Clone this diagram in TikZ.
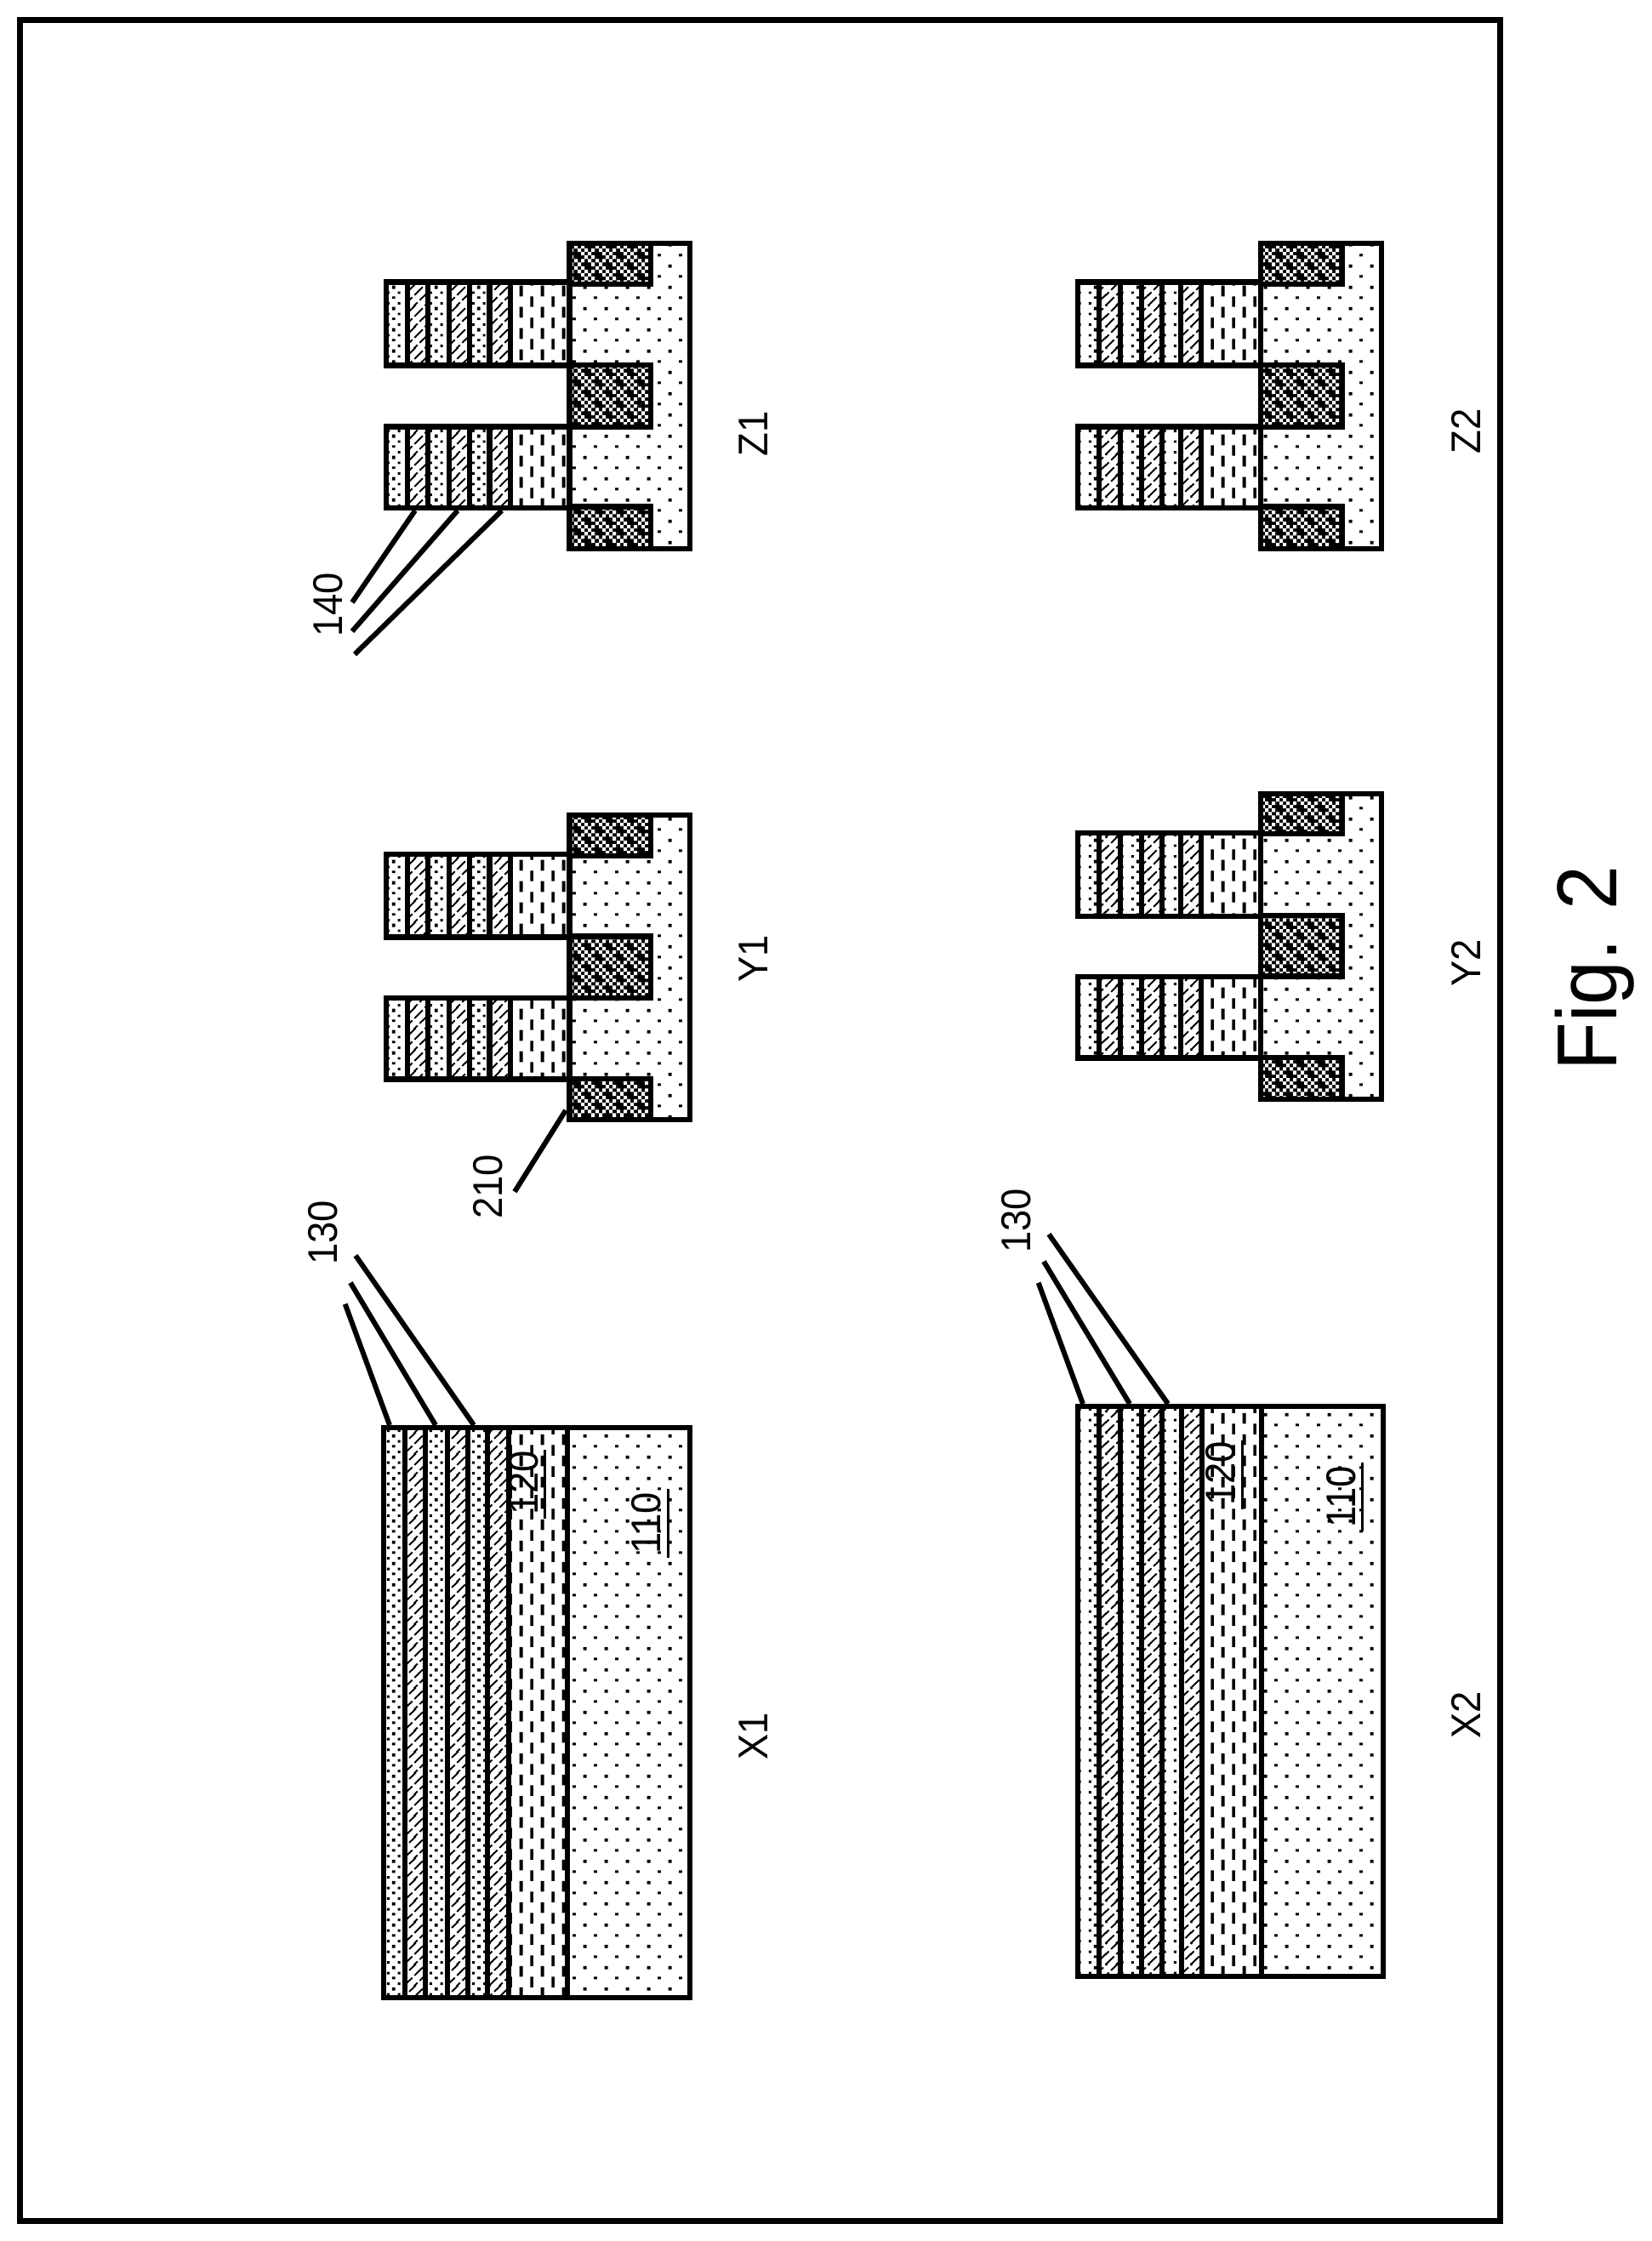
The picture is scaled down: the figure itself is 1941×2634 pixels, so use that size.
\documentclass[tikz,border=0pt]{standalone}
\usepackage{fontspec}
\usetikzlibrary{patterns}
\setmainfont[FakeStretch=0.93]{Liberation Sans}
\newcommand\ulnum[1]{\setbox0\hbox{#1}\rlap{\kern-1.1pt\rule[-2.45pt]{20.25pt}{0.75pt}}#1}
% rectangle in a 25 px pattern tile: x, y (pixels, y down, page coordinates), w, h; wraps round the tile
\newcommand\pr[4]{%
  \pgfmathsetmacro\ax{mod(mod(#1,25)+25,25)*0.25}%
  \pgfmathsetmacro\ay{mod(mod(9-(#2)-(#4),25)+25,25)*0.25}%
  \pgfmathsetmacro\aw{(#3)*0.25}%
  \pgfmathsetmacro\ah{(#4)*0.25}%
  \pgfmathsetmacro\bx{\ax-6.25}%
  \pgfmathsetmacro\by{\ay-6.25}%
  \pgfpathrectangle{\pgfpoint{\ax pt}{\ay pt}}{\pgfpoint{\aw pt}{\ah pt}}%
  \pgfpathrectangle{\pgfpoint{\bx pt}{\ay pt}}{\pgfpoint{\aw pt}{\ah pt}}%
  \pgfpathrectangle{\pgfpoint{\ax pt}{\by pt}}{\pgfpoint{\aw pt}{\ah pt}}%
  \pgfpathrectangle{\pgfpoint{\bx pt}{\by pt}}{\pgfpoint{\aw pt}{\ah pt}}%
}
\newcommand\wc[2]{\pr{#1*4.1667}{#2*4.1667}{4.1667}{4.1667}}
\pgfdeclarepatternformonly{sparsedots}{\pgfqpoint{0pt}{0pt}}{\pgfqpoint{6.25pt}{6.25pt}}{\pgfqpoint{6.25pt}{6.25pt}}{%
  \pr{11}{10}{4}{4}\pr{-1}{23}{3}{3}\pgfusepath{fill}}
\pgfdeclarepatternformonly{longdash}{\pgfqpoint{0pt}{0pt}}{\pgfqpoint{6.25pt}{6.25pt}}{\pgfqpoint{6.25pt}{6.25pt}}{%
  \pr{11}{10}{4}{13}\pr{-1}{-2}{3}{12}\pgfusepath{fill}}
\pgfdeclarepatternformonly{densedots}{\pgfqpoint{0pt}{0pt}}{\pgfqpoint{6.25pt}{6.25pt}}{\pgfqpoint{6.25pt}{6.25pt}}{%
  \pr{11}{10}{4}{4}\pr{11}{23}{4}{3}\pr{5}{5}{3}{3}\pr{18}{5}{3}{3}\pr{5}{17}{3}{3}\pr{18}{17}{3}{3}\pgfusepath{fill}}
\pgfdeclarepatternformonly{hatchdash}{\pgfqpoint{0pt}{0pt}}{\pgfqpoint{6.25pt}{6.25pt}}{\pgfqpoint{6.25pt}{6.25pt}}{%
  \pgfsetlinewidth{0.5pt}%
  \pgfsetdash{{3.5pt}{0.92pt}}{0pt}%
  \foreach \k/\s in {-6.25/0,-3.125/1.5625,0/0,3.125/1.5625,6.25/0}{%
    \pgfpathmoveto{\pgfpoint{-3.125pt+\s pt}{\k pt-3.125pt+\s pt}}%
    \pgfpathlineto{\pgfpoint{9.375pt}{\k pt+9.375pt}}%
    \pgfusepath{stroke}}}
\pgfdeclarepatternformonly{checkcells}{\pgfqpoint{0pt}{0pt}}{\pgfqpoint{6.25pt}{6.25pt}}{\pgfqpoint{6.25pt}{6.25pt}}{%
  \wc{3}{0}\wc{5}{0}\wc{0}{1}\wc{2}{1}\wc{4}{1}\wc{1}{2}\wc{5}{2}\wc{0}{3}\wc{2}{3}\wc{1}{4}\wc{3}{4}\wc{5}{4}\wc{2}{5}\wc{4}{5}\pgfusepath{fill}}
\newcommand\colset[9]{\def\XA{#1}\def\XB{#2}\def\XC{#3}\def\XD{#4}\def\XE{#5}\def\XF{#6}\def\XG{#7}\def\XH{#8}\def\XR{#9}}
\newcommand\layers[2]{%
  \fill[pattern=densedots] (\XA,#1) rectangle (\XB,#2);
  \fill[pattern=hatchdash] (\XB,#1) rectangle (\XC,#2);
  \fill[pattern=densedots] (\XC,#1) rectangle (\XD,#2);
  \fill[pattern=hatchdash] (\XD,#1) rectangle (\XE,#2);
  \fill[pattern=densedots] (\XE,#1) rectangle (\XF,#2);
  \fill[pattern=hatchdash] (\XF,#1) rectangle (\XG,#2);
  \fill[pattern=longdash] (\XG,#1) rectangle (\XH,#2);
  \draw[outl] (\XA,#1) rectangle (\XH,#2);
  \draw[sepl] (\XB,#1)--(\XB,#2) (\XC,#1)--(\XC,#2) (\XD,#1)--(\XD,#2)
     (\XE,#1)--(\XE,#2) (\XF,#1)--(\XF,#2) (\XG,#1)--(\XG,#2);}
\newcommand\stiblock[2]{%
  \fill[black] (\SL,#1) rectangle (\SR,#2);
  \fill[pattern=checkcells,pattern color=white] (\SL,#1) rectangle (\SR,#2);
  \draw[outl] (\SL,#1) rectangle (\SR,#2);}
% fin panel: top, sti1 bottom, fin1 top, fin1 bottom, sti2 top, sti2 bottom, fin2 top, fin2 bottom, sti3 top; \Ybot bottom
\newcommand\finpanel[9]{%
  \fill[pattern=sparsedots] (\SL,#1) rectangle (\XR,\Ybot);
  \draw[outl] (\SL,#1) rectangle (\XR,\Ybot);
  \stiblock{#1}{#2}\stiblock{#5}{#6}\stiblock{#9}{\Ybot}
  \layers{#3}{#4}\layers{#7}{#8}}
\newcommand\flatpanel[2]{%
  \fill[pattern=sparsedots] (\XH,#1) rectangle (\XR,#2);
  \draw[outl] (\XH,#1) rectangle (\XR,#2);
  \layers{#1}{#2}}
\tikzset{
  outl/.style={line width=1.65pt,line join=miter},
  sepl/.style={line width=1.6pt},
  leader/.style={line width=1.5pt},
  frameline/.style={line width=1.75pt},
  lbl/.style={rotate=90,anchor=base,inner sep=0pt,font=\fontsize{12.2}{14}\selectfont},
  figlbl/.style={rotate=90,anchor=base,inner sep=0pt,font=\fontsize{25}{30}\selectfont}
}
\begin{document}
\begin{tikzpicture}[x=0.25pt,y=-0.25pt]
\useasboundingbox (0,0) rectangle (1941,2634);
\fill[white] (0,0) rectangle (1941,2634);
\draw[frameline] (23.3,23.3) rectangle (1763.5,2610.5);
% X1
\colset{451}{476}{500}{526}{550}{573}{598}{667}{811}
\flatpanel{1678}{2348}
% X2
\colset{1267}{1292}{1317}{1342}{1366}{1389}{1413}{1483}{1626}
\flatpanel{1653}{2323}
% Z1, Y1
\colset{454}{479}{503}{528}{552}{575.5}{600}{670}{811}
\def\SL{669.5}\def\SR{765}
\def\Ybot{645}
\finpanel{286}{334}{331.5}{429.5}{429}{502}{501.5}{597}{595.7}
\def\Ybot{1316}
\finpanel{958}{1006}{1004}{1101.3}{1100.7}{1173}{1173}{1268.7}{1268}
% Z2, Y2
\colset{1267}{1292}{1317}{1342}{1366}{1388}{1412}{1482}{1624}
\def\SL{1482}\def\SR{1578}
\def\Ybot{645}
\finpanel{286}{334}{331.5}{429.5}{429}{502}{501.5}{597}{595.7}
\def\Ybot{1292}
\finpanel{933}{980}{979}{1077}{1076}{1147.7}{1148}{1243.7}{1243}
% leaders
\coordinate (xa1) at (405.7,1532.7); \coordinate (xb1) at (458,1675);
\coordinate (xa2) at (412,1507.7);   \coordinate (xb2) at (512,1675);
\coordinate (xa3) at (418,1475.7);   \coordinate (xb3) at (557,1675);
\draw[leader] (xa1)--(xb1) (xa2)--(xb2) (xa3)--(xb3);
\coordinate (ya1) at (1220.7,1507.7); \coordinate (yb1) at (1273,1650);
\coordinate (ya2) at (1227,1482.7);   \coordinate (yb2) at (1328,1650);
\coordinate (ya3) at (1233,1450.7);   \coordinate (yb3) at (1373,1650);
\draw[leader] (ya1)--(yb1) (ya2)--(yb2) (ya3)--(yb3);
\coordinate (za1) at (414,708); \coordinate (zb1) at (488,600);
\coordinate (za2) at (414,742); \coordinate (zb2) at (538,600);
\coordinate (za3) at (417,769); \coordinate (zb3) at (590,600);
\draw[leader] (za1)--(zb1) (za2)--(zb2) (za3)--(zb3);
\coordinate (ta) at (605,1400.7); \coordinate (tb) at (665,1305);
\draw[leader] (ta)--(tb);
% numbers
\node[lbl] (n110a) at (776.7,1790) {\ulnum{110}};
\node[lbl] (n120a) at (632,1743) {\ulnum{120}};
\node[lbl] (n110b) at (1593.3,1759) {\ulnum{110}};
\node[lbl] (n120b) at (1451.7,1732) {\ulnum{120}};
\node[lbl] (n130a) at (396,1449) {130};
\node[lbl] (n130b) at (1211.7,1435) {130};
\node[lbl] (n140) at (402,711) {140};
\node[lbl] (n210) at (590.7,1395) {210};
\node[lbl] (cx1) at (902,2041) {X1};
\node[lbl] (cy1) at (902,1127) {Y1};
\node[lbl] (cz1) at (902,510) {Z1};
\node[lbl] (cx2) at (1740,2016) {X2};
\node[lbl] (cy2) at (1740,1132) {Y2};
\node[lbl] (cz2) at (1740,507) {Z2};
\node[figlbl] (fig) at (1900,1138) {Fig. 2};
\end{tikzpicture}
\end{document}
